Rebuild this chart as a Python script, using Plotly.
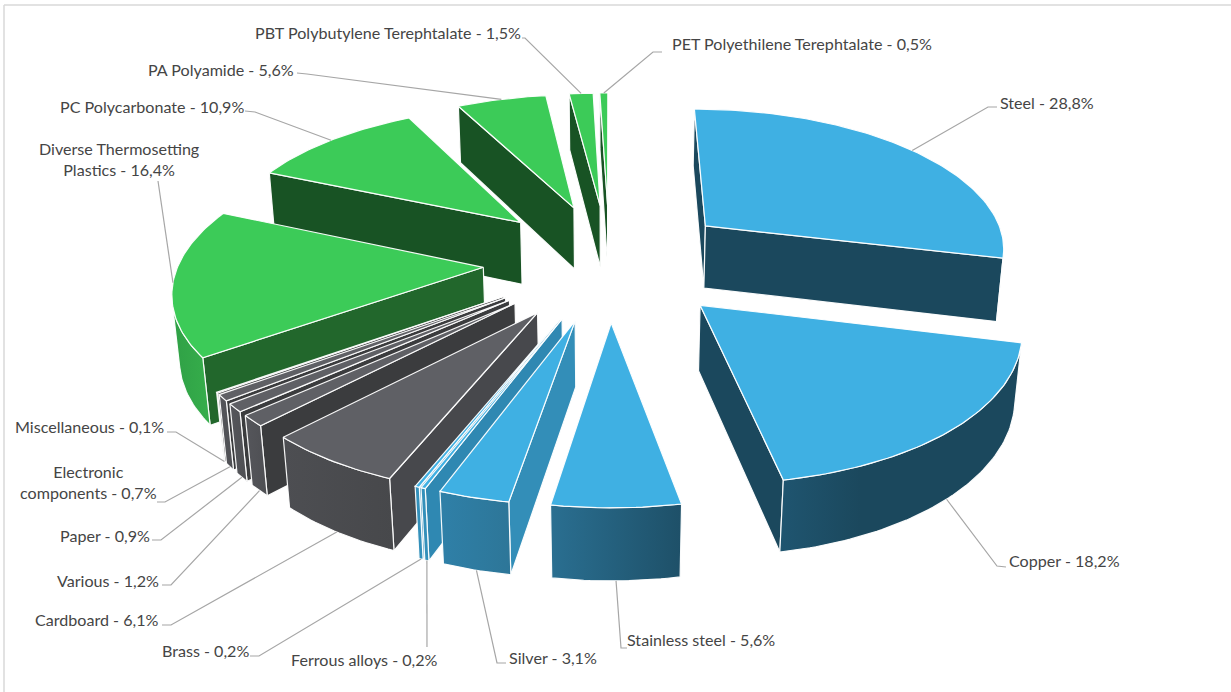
import math
import plotly.graph_objects as go

# ---- data (clockwise from 12 o'clock) ----
names = ["Steel", "Copper", "Stainless steel", "Silver", "Ferrous alloys", "Brass", "Cardboard",
         "Various", "Paper", "Electronic<br>components", "Miscellaneous",
         "Diverse Thermosetting<br>Plastics", "PC Polycarbonate", "PA Polyamide",
         "PBT Polybutylene Terephtalate", "PET Polyethilene Terephtalate"]
values = [28.8, 18.2, 5.6, 3.1, 0.2, 0.2, 6.1, 1.2, 0.9, 0.7, 0.1, 16.4, 10.9, 5.6, 1.5, 0.5]

# ---- styles ----
BLUE, GRAY, GREEN = "#3FB0E3", "#5F6065", "#3CCB58"
top_colors = [BLUE] * 6 + [GRAY] * 5 + [GREEN] * 5
side_colors = ["#1B485D", "#1B485D", "#1E5068", "#338EB8", "#2F88B2", "#2F88B2", "#47484C",
               "#3B3C3E", "#3B3C3E", "#3B3C3E", "#3B3C3E", "#22672C", "#185324", "#185324", "#185324", "#185324"]
rim_colors = [("#1B485D", "#1B485D"), ("#1F5570", "#1B485D", "#1B485D", "#1B485D"), ("#2A6F91", "#1E5068"), ("#2F80A8", "#2D7698"),
              ("#3390BA", "#3390BA"), ("#3390BA", "#3390BA"), ("#4D4E52", "#47484B"),
              ("#55565B", "#4E4F53"), ("#55565B", "#4E4F53"), ("#55565B", "#4E4F53"), ("#55565B", "#4E4F53"),
              ("#2FA046", "#36AE4B"), ("#2FA046", "#2FA046"), ("#2FA046", "#2FA046"), ("#2FA046", "#2FA046"), ("#2FA046", "#2FA046")]

# ---- projection ----
CX, CY = 609.5, 261.0
F, DIST = 304.0, 6.6
ALPHA = math.radians(27.7)
PULL, THICK, ROT = 0.415, 0.24, 0.0


def project(X, Y, Z):
    yc = Y * math.sin(ALPHA) + Z * math.cos(ALPHA)
    zc = Y * math.cos(ALPHA) - Z * math.sin(ALPHA)
    s = DIST / (DIST + zc)
    return CX + F * s * X, CY - F * s * yc


def area(pts):
    return sum(pts[i][0] * pts[(i + 1) % len(pts)][1] - pts[(i + 1) % len(pts)][0] * pts[i][1]
               for i in range(len(pts))) / 2


fig = go.Figure()


def face(pts, color, grad=None):
    kw = dict(fillcolor=color)
    if grad and len(set(grad)) > 1:
        stops = [[k / (len(grad) - 1), c] for k, c in enumerate(grad)]
        kw = dict(fillgradient=dict(type="horizontal", colorscale=stops))
    fig.add_trace(go.Scatter(x=[p[0] for p in pts] + [pts[0][0]], y=[p[1] for p in pts] + [pts[0][1]],
                             mode="lines", fill="toself", line=dict(color="rgba(255,255,255,0.95)", width=1.2),
                             hoverinfo="skip", showlegend=False, **kw))


total = sum(values)
slices = []
cum = 0.0
for i, v in enumerate(values):
    a0 = ROT + cum / total * 360
    a1 = ROT + (cum + v) / total * 360
    cum += v
    mid = math.radians((a0 + a1) / 2)
    ox, oy = PULL * math.sin(mid), PULL * math.cos(mid)
    slices.append(dict(i=i, a0=a0, a1=a1, mid=mid, ox=ox, oy=oy, depth=oy + 0.6 * math.cos(mid)))


def rim(sl, deg, z):
    t = math.radians(deg)
    return project(sl["ox"] + math.sin(t), sl["oy"] + math.cos(t), z)


for sl in sorted(slices, key=lambda s: -s["depth"]):
    i = sl["i"]
    apex_t = project(sl["ox"], sl["oy"], 0)
    apex_b = project(sl["ox"], sl["oy"], -THICK)
    n = max(4, int((sl["a1"] - sl["a0"]) / 1.0))
    degs = [sl["a0"] + (sl["a1"] - sl["a0"]) * k / n for k in range(n + 1)]
    # radial walls, culled by their orientation on the screen
    start_wall = [apex_t, rim(sl, sl["a0"], 0), rim(sl, sl["a0"], -THICK), apex_b]
    end_wall = [rim(sl, sl["a1"], 0), apex_t, apex_b, rim(sl, sl["a1"], -THICK)]
    for wall in (start_wall, end_wall):
        if area(wall) < 0:
            face(wall, side_colors[i])
    # outer wall: only the segments that face the camera
    vis = [d0 for d0, d1 in zip(degs, degs[1:])
           if area([rim(sl, d0, 0), rim(sl, d1, 0), rim(sl, d1, -THICK), rim(sl, d0, -THICK)]) < 0]
    step = degs[1] - degs[0]
    if vis:
        arc = [min(vis) + step * k for k in range(int(round((max(vis) - min(vis)) / step)) + 2)]
        pts = [rim(sl, d, 0) for d in arc] + [rim(sl, d, -THICK) for d in reversed(arc)]
        face(pts, rim_colors[i][-1], rim_colors[i])
    # top
    face([apex_t] + [rim(sl, d, 0) for d in degs], top_colors[i])

# ---- labels ----
TEXT = "#454545"
LEADER = "#A6A6A6"
# x, y, anchor of each label; elbow points of its leader; level of the rim the leader touches
label_layout = [
    (1000, 102, "left", [(997, 107), (988, 107)], 0.0),
    (1009, 560, "left", [(1006, 567), (997, 566)], -1.0),
    (627, 639, "left", [(627, 648), (621, 648)], -1.0),
    (509, 657, "left", [(506, 663), (497, 663)], -1.0),
    (291, 659, "left", [(427, 647)], -1.0),
    (162, 650, "left", [(250, 656), (259, 656)], -1.0),
    (35, 619, "left", [(162, 625), (171, 625)], -1.0),
    (57, 580, "left", [(162, 585), (171, 585)], -1.0),
    (60, 535, "left", [(152, 540), (161, 540)], -1.0),
    (88, 482, "center", [(157, 502), (165, 502)], -1.0),
    (15, 426, "left", [(167, 432), (176, 432)], -1.0),
    (119, 159, "center", [(158, 181)], 0.0),
    (60, 106, "left", [(245, 111), (255, 112)], 0.0),
    (148, 69, "left", [(297, 73), (307, 74)], 0.0),
    (255, 32, "left", [(522, 38), (525, 38)], 0.0),
    (672, 43, "left", [(662, 52), (653, 52)], 0.0),
]

annotations = []
for sl, name, v, (lx, ly, anchor, elbow, level) in zip(slices, names, values, label_layout):
    text = f"{name} - {v:.1f}%".replace(".", ",")
    annotations.append(dict(x=lx - 1 if anchor == "left" else lx, y=ly, xref="x", yref="y", text=text,
                            showarrow=False, xanchor=anchor, borderpad=0,
                            yanchor="middle", align="center", font=dict(family="Lato", size=16.1, color=TEXT)))
    end = rim(sl, math.degrees(sl["mid"]), level * THICK)
    pts = list(elbow) + [end]
    fig.add_trace(go.Scatter(x=[p[0] for p in pts], y=[p[1] for p in pts], mode="lines",
                             line=dict(color=LEADER, width=1.2), hoverinfo="skip", showlegend=False))

frame = dict(type="line", xref="x", yref="y", line=dict(color="#D9D9D9", width=1.5), layer="below")
fig.update_layout(
    width=1231, height=692, margin=dict(l=0, r=0, t=0, b=0),
    paper_bgcolor="white", plot_bgcolor="white", showlegend=False,
    xaxis=dict(range=[0, 1231], visible=False, fixedrange=True),
    yaxis=dict(range=[692, 0], visible=False, fixedrange=True),
    annotations=annotations,
    shapes=[dict(frame, x0=4, x1=4, y0=5, y1=692), dict(frame, x0=4, x1=1231, y0=5, y1=5)],
)
fig.write_html("out.html", config=dict(displayModeBar=False),
               post_script="document.body.style.margin='0';document.body.style.overflow='hidden';")
